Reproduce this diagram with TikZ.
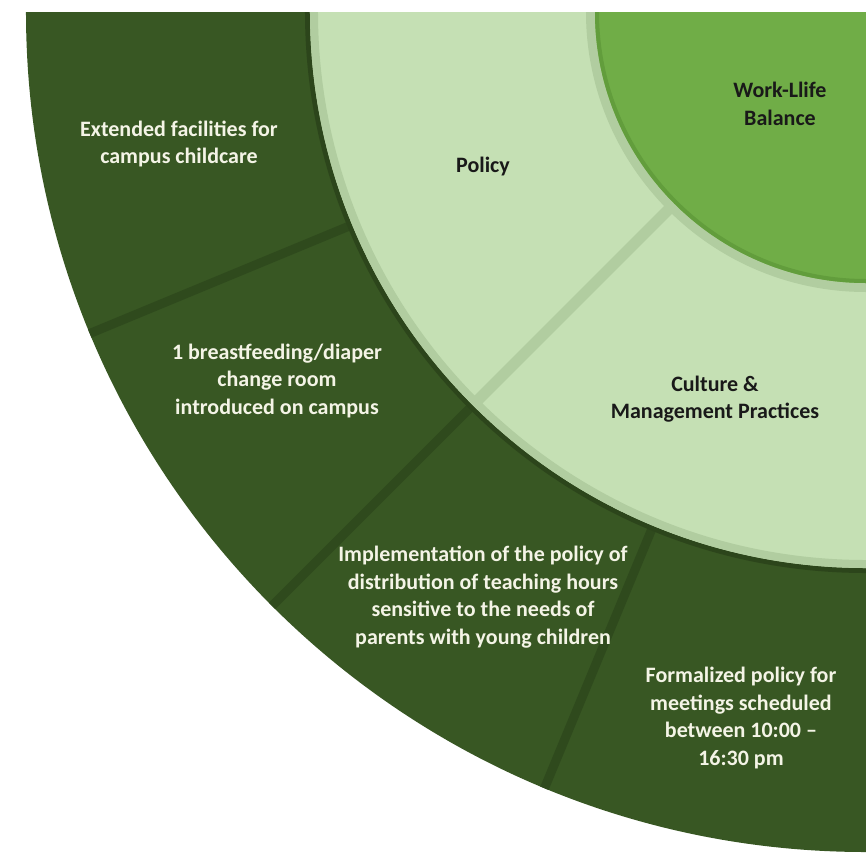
\documentclass[tikz,border=0pt]{standalone}
\usepackage{fontspec}
\setmainfont{Carlito}
\usetikzlibrary{positioning}
\definecolor{wlOuter}{RGB}{56,87,35}
\definecolor{wlOuterRim}{RGB}{44,69,27}
\definecolor{wlGap}{RGB}{47,74,29}
\definecolor{wlMid}{RGB}{197,224,180}
\definecolor{wlMidRim}{RGB}{177,205,160}
\definecolor{wlCore}{RGB}{112,173,71}
\definecolor{wlCoreRim}{RGB}{98,157,60}
\definecolor{wlText}{RGB}{244,244,230}
\tikzset{
    base/.style={font=\bfseries\fontsize{22}{27.5}\selectfont, align=center},
    leaf/.style={base, text=wlText},
    branch/.style={base, text=black!90},
    gap/.style={draw=wlGap, line width=9pt},
    seam/.style={draw=wlMidRim, line width=11pt}
}

\begin{document}
\begin{tikzpicture}[x=1pt, y=1pt]
  \useasboundingbox (-866,-842) rectangle (0,12);
  \clip (-866,-842) rectangle (0,0);

  % Outer ring: four measures, split every 22.5 degrees
  \fill[wlOuter] (0,0) circle[radius=840pt];
  \begin{scope}
    \clip (0,0) circle[radius=840pt];
    \foreach \a in {202.5,225,247.5}
      \draw[gap] (\a:557pt) -- (\a:850pt);
  \end{scope}
  \draw[wlOuterRim, line width=5pt] (0,0) circle[radius=558.5pt];

  % Middle ring: Policy / Culture
  \fill[wlMid] (0,0) circle[radius=556pt];
  \draw[wlMidRim, line width=8pt] (0,0) circle[radius=552pt];
  \draw[seam] (225:276pt) -- (225:552pt);
  \draw[wlMidRim, line width=9pt] (0,0) circle[radius=275.5pt];

  % Core
  \fill[wlCore] (0,0) circle[radius=271pt];
  \draw[wlCoreRim, line width=4pt] (0,0) circle[radius=269pt];

  % Labels
  \node[branch] (core) at (-86,-92) {Work-Llife\\Balance};
  \node[branch] (policy) at (-383,-155) {Policy};
  \node[branch] (culture) at (-151,-387) {Culture \&\\Management Practices};

  \node[leaf] (childcare) at (-687,-132) {Extended facilities for\\campus childcare};
  \node[leaf] (room) at (-589,-369) {1 breastfeeding/diaper\\change room\\introduced on campus};
  \node[leaf] (hours) at (-383,-585) {Implementation of the policy of\\distribution of teaching hours\\sensitive to the needs of\\parents with young children};
  \node[leaf] (meetings) at (-125,-706) {Formalized policy for\\meetings scheduled\\between 10:00 --\\16:30 pm};
\end{tikzpicture}
\end{document}
